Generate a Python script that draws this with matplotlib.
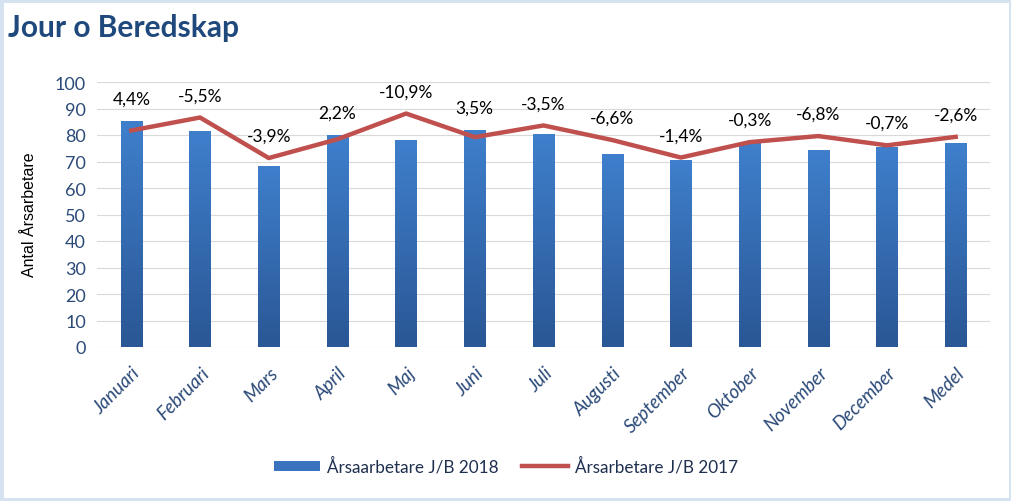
import numpy as np
import matplotlib
matplotlib.use("Agg")
import matplotlib.pyplot as plt
import matplotlib.transforms as mtransforms
from matplotlib.patches import Rectangle
from matplotlib.colors import LinearSegmentedColormap

# ---------------- Data ----------------
months = ["Januari", "Februari", "Mars", "April", "Maj", "Juni", "Juli",
          "Augusti", "September", "Oktober", "November", "December", "Medel"]
arsarb_2018 = [85.3, 81.6, 68.4, 80.0, 78.2, 81.9, 80.5, 72.9, 70.6, 76.9, 74.2, 75.5, 77.1]
arsarb_2017 = [81.7, 86.6, 71.3, 78.4, 88.1, 79.2, 83.6, 78.1, 71.5, 77.3, 79.6, 76.1, 79.3]
change_labels = ["4,4%", "-5,5%", "-3,9%", "2,2%", "-10,9%", "3,5%", "-3,5%",
                 "-6,6%", "-1,4%", "-0,3%", "-6,8%", "-0,7%", "-2,6%"]
yticks = [0, 10, 20, 30, 40, 50, 60, 70, 80, 90, 100]

# ---------------- Style ----------------
navy = "#1F497D"
tick_col = "#2B4A78"
bar_top, bar_bot = "#3F7FCC", "#2A5795"
line_col = "#C0504D"
grid_col = "#D9D9D9"

fig = plt.figure(figsize=(10.12, 5.02), dpi=100)
fig.patch.set_facecolor("white")
fig.patches.append(Rectangle((0, 0), 1, 1, transform=fig.transFigure, fill=False,
                             edgecolor="#D5E2F0", linewidth=5))

ax = fig.add_axes([97 / 1012, 1 - 348 / 502, (990 - 97) / 1012, (348 - 83) / 502])
x = np.arange(len(months))

bars = ax.bar(x, arsarb_2018, width=0.31, color="#3A74BE", zorder=2,
              label="Årsaarbetare J/B 2018")
# vertical gradient inside each bar
grad = LinearSegmentedColormap.from_list("bg", [bar_bot, bar_top])
for b in bars:
    x0, y0, w, h = b.get_x(), b.get_y(), b.get_width(), b.get_height()
    img = ax.imshow(np.linspace(0, 1, 100).reshape(-1, 1), cmap=grad, origin="lower",
                    extent=[x0, x0 + w, y0, y0 + h], aspect="auto", zorder=2.1)
    img.set_clip_path(b)

line, = ax.plot(x, arsarb_2017, color=line_col, linewidth=3.2, zorder=3,
                solid_joinstyle="round", label="Årsarbetare J/B 2017")

for xi, a, b, lab in zip(x, arsarb_2018, arsarb_2017, change_labels):
    ax.annotate(lab, (xi, max(a, b)), xytext=(0, 16), textcoords="offset points",
                ha="center", va="center", fontsize=12.5, family="Lato", color="black")

ax.set_xlim(-0.5, len(months) - 0.5)
ax.set_ylim(0, 100)
ax.set_yticks(yticks)
ax.set_yticklabels([str(t) for t in yticks], fontsize=13, family="Lato", color=tick_col)
ax.set_xticks(x)
ax.set_xticklabels(months, rotation=45, ha="right", va="top", rotation_mode="anchor",
                   fontsize=13.5, family="Lato", style="italic", color=tick_col)
shift = mtransforms.ScaledTranslation(-6 / 100, 0, fig.dpi_scale_trans)
for t in ax.get_xticklabels():
    t.set_transform(t.get_transform() + shift)
ax.tick_params(axis="both", length=0, pad=8)
ax.tick_params(axis="x", pad=12)
ax.grid(axis="y", color=grid_col, linewidth=0.8, zorder=0)
ax.set_axisbelow(True)
for s in ax.spines.values():
    s.set_visible(False)

fig.text(30 / 1012, 1 - 215 / 502, "Antal Årsarbetare", rotation=90, ha="center",
         va="center", fontsize=11.5, family="Liberation Sans", color="black")
fig.text(8 / 1012, 1 - 28 / 502, "Jour o Beredskap", ha="left", va="center",
         fontsize=21.5, fontweight="bold", family="Lato", color=navy)

fig.legend(handles=[bars, line], loc="center", bbox_to_anchor=(0.5, 1 - 467 / 502),
           ncol=2, frameon=False, prop={"family": "Lato", "size": 12.3},
           handlelength=2.7, handleheight=0.55, columnspacing=1.4, handletextpad=0.4,
           labelcolor="#1F2F4F")

fig.savefig("out.png", dpi=100, facecolor="white")
